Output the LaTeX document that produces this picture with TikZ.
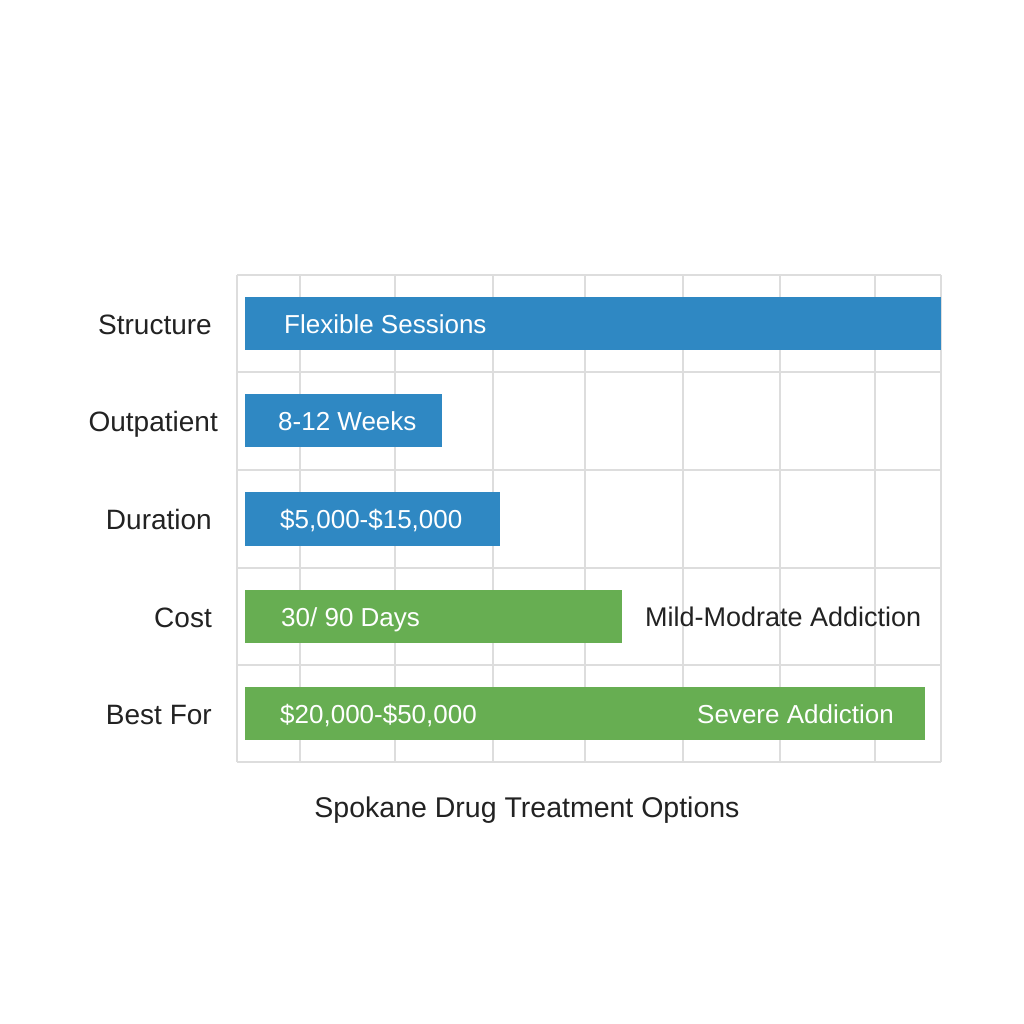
\documentclass[tikz,border=0pt]{standalone}
\usepackage{fontspec}
\setmainfont{Liberation Sans}
\definecolor{bblue}{HTML}{2F88C3}
\definecolor{bgreen}{HTML}{67AE52}
\definecolor{gridc}{HTML}{DDDDDD}
\definecolor{txt}{HTML}{222222}
\begin{document}
\begin{tikzpicture}[x=1pt,y=-1pt,
  lab/.style={anchor=base east,font=\fontsize{28}{32}\selectfont,text=txt},
  intxt/.style={anchor=base west,font=\fontsize{26}{30}\selectfont,text=white,inner sep=0pt},
  outtxt/.style={anchor=base west,font=\fontsize{27}{30}\selectfont,text=txt,inner sep=0pt}]
\useasboundingbox (0,0) rectangle (1024,1024);
\fill[white] (0,0) rectangle (1024,1024);
\foreach \x in {237,300,395,493,585,683,780,875,941}
  \draw[gridc,line width=1.5pt] (\x,275) -- (\x,762);
\foreach \y in {275,372,470,568,665,762}
  \draw[gridc,line width=1.5pt] (237,\y) -- (941,\y);
\fill[bblue] (245,297) rectangle (941,350);
\fill[bblue] (245,394) rectangle (442,447);
\fill[bblue] (245,492) rectangle (500,546);
\fill[bgreen] (245,590) rectangle (622,643);
\fill[bgreen] (245,687) rectangle (925,740);
\node[lab,inner sep=0pt] (l1) at (212,334) {Structure};
\node[lab,inner sep=0pt] (l2) at (218,431) {Outpatient};
\node[lab,inner sep=0pt] (l3) at (212,529) {Duration};
\node[lab,inner sep=0pt] (l4) at (212,627) {Cost};
\node[lab,inner sep=0pt] (l5) at (212,724) {Best For};
\node[intxt] (t1) at (284,333) {Flexible Sessions};
\node[intxt] (t2) at (278,430) {8-12 Weeks};
\node[intxt] (t3) at (280,528) {\$5,000-\$15,000};
\node[intxt] (t4) at (281,626) {30/ 90 Days};
\node[outtxt] (t5) at (645,626) {Mild-Modrate Addiction};
\node[intxt] (t6) at (280,723) {\$20,000-\$50,000};
\node[intxt] (t7) at (697,723) {Severe Addiction};
\node[font=\fontsize{28.5}{32}\selectfont,text=txt,anchor=base] (title) at (527,817) {Spokane Drug Treatment Options};
\end{tikzpicture}
\end{document}
